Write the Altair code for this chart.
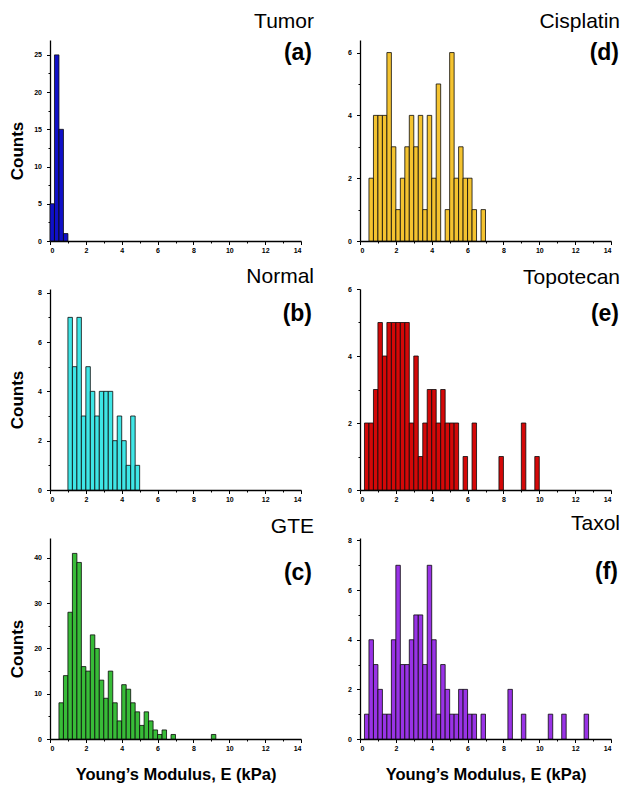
import altair as alt
import pandas as pd

# ---------------- data (bin width 0.25 kPa) ----------------
BIN = 0.25

tumor_start = 0.0
tumor_counts = [5, 25, 15, 1]

normal_start = 1.0
normal_counts = [7, 5, 7, 3, 5, 4, 3, 4, 4, 4, 2, 3, 2, 1, 3, 1]

gte_start = 0.5
gte_counts = [8, 14, 28, 41, 39, 16, 15, 23, 20, 13, 9, 15, 8, 4, 12, 11, 8, 6,
              3, 6, 4, 2, 1, 2, 0, 1, 0, 0, 0, 0, 0, 0, 0, 0, 1]

cisplatin_start = 0.5
cisplatin_counts = [2, 4, 4, 4, 6, 3, 1, 2, 3, 4, 3, 4, 1, 4, 2, 5, 0, 1, 6, 2,
                    3, 2, 2, 1, 0, 1]

topotecan_start = 0.25
topotecan_counts = [2, 2, 3, 5, 4, 5, 5, 5, 5, 5, 2, 4, 1, 2, 3, 3, 2, 3, 2, 2,
                    2, 0, 1, 0, 2, 0, 0, 0, 0, 0, 1, 0, 0, 0, 0, 2, 0, 0, 1]

taxol_start = 0.25
taxol_counts = [1, 4, 3, 2, 1, 1, 4, 7, 3, 3, 4, 5, 5, 3, 7, 4, 1, 3, 2, 1, 1,
                2, 2, 1, 1, 0, 1, 0, 0, 0, 0, 0, 2, 0, 0, 1, 0, 0, 0, 0, 0, 1,
                0, 0, 1, 0, 0, 0, 0, 1]

names = ["Tumor", "Normal", "GTE", "Cisplatin", "Topotecan", "Taxol"]
letters = ["(a)", "(b)", "(c)", "(d)", "(e)", "(f)"]
colors = ["#1010c8", "#3fe6e6", "#38bc38", "#f4c330", "#d40808", "#9933e6"]
y_max = [27, 8.15, 44.4, 6.4, 6, 8.1]
y_step = [5, 2, 10, 2, 2, 2]
x_ticks = list(range(0, 15))

starts = [tumor_start, normal_start, gte_start, cisplatin_start, topotecan_start, taxol_start]
counts = [tumor_counts, normal_counts, gte_counts, cisplatin_counts, topotecan_counts, taxol_counts]

# ---------------- layout parameters ----------------
W = 251
H = 201
FONT = "Liberation Sans"
# (name baseline, letter baseline, name right offset, letter right offset)
text_pos = [(-12, 20, 13, 11), (-6, 32, 13, 11), (-5, 42, 13, 11),
            (-12, 20, 9, 8), (-5, 32, 9, 8), (-8, 41, 9, 7)]


def make_df(start, cnts):
    rows = []
    for i, c in enumerate(cnts):
        if c > 0:
            lo = start + i * BIN
            rows.append({"lo": lo, "hi": lo + BIN, "n": c})
    return pd.DataFrame(rows)


def panel(k, left, bottom):
    df = make_df(starts[k], counts[k])
    step = y_step[k]
    half = step / 2
    yvals = []
    v = 0.0
    while v <= y_max[k] + 1e-9:
        yvals.append(round(v, 3))
        v += half
    test_y = f"abs(datum.value / {step} - round(datum.value / {step})) < 0.001"

    xaxis_kw = dict(
        values=x_ticks,
        labelExpr="datum.value % 2 === 0 ? datum.label : ''",
        tickSize={"condition": {"test": "datum.value % 2 === 0", "value": 3.5}, "value": 2},
        labelPadding=2,
        grid=False,
    )
    if bottom:
        xaxis_kw.update(title="Young’s Modulus, E (kPa)", titleFont=FONT,
                        titleFontSize=16.5, titleFontWeight="bold",
                        titleY=40, titleBaseline="alphabetic", titleColor="black")
    else:
        xaxis_kw.update(title=None)

    yaxis_kw = dict(
        values=yvals,
        labelExpr=f"{test_y} ? format(datum.value, 'd') : ''",
        tickSize={"condition": {"test": test_y, "value": 3.5}, "value": 2},
        labelPadding=5,
        grid=False,
    )
    if left:
        yaxis_kw.update(title="Counts", titleFont=FONT, titleFontSize=17,
                        titleFontWeight="bold", titleX=-24, titleY=H / 2 + 10,
                        titleColor="black")
    else:
        yaxis_kw.update(title=None)

    bars = alt.Chart(df).mark_rect(
        color=colors[k], stroke="#0a0a0a", strokeWidth=0.8
    ).encode(
        x=alt.X("lo:Q", scale=alt.Scale(domain=[0, 14], nice=False, zero=False),
                axis=alt.Axis(**xaxis_kw)),
        x2="hi:Q",
        y=alt.Y("n:Q", scale=alt.Scale(domain=[0, y_max[k]], nice=False),
                axis=alt.Axis(**yaxis_kw)),
        y2=alt.datum(0),
    )

    nb, lb, nx, lx = text_pos[k]
    tdf = pd.DataFrame({"name": [names[k]], "letter": [letters[k]]})
    name_t = alt.Chart(tdf).mark_text(
        align="right", baseline="alphabetic", font=FONT, fontSize=21, color="black"
    ).encode(x=alt.value(W + nx), y=alt.value(nb), text="name:N")
    letter_t = alt.Chart(tdf).mark_text(
        align="right", baseline="alphabetic", font=FONT, fontSize=23,
        fontWeight="bold", color="black"
    ).encode(x=alt.value(W + lx), y=alt.value(lb), text="letter:N")

    return alt.layer(bars, name_t, letter_t).properties(width=W, height=H)


order = [(0, True, False), (3, False, False),
         (1, True, False), (4, False, False),
         (2, True, True), (5, False, True)]

chart = alt.concat(
    *[panel(k, l, b) for k, l, b in order],
    columns=2, spacing={"row": 48, "column": 59}, bounds="flush",
).properties(
    padding={"left": 0, "top": 3, "right": 0, "bottom": 0}
).configure_view(stroke=None).configure_axis(
    labelFont=FONT, labelFontSize=7, labelFontWeight="bold", labelColor="black",
    domainColor="black", domainWidth=1.3, tickColor="black", tickWidth=1,
)

chart.save("out.html", embed_options={"renderer": "svg", "actions": False})
